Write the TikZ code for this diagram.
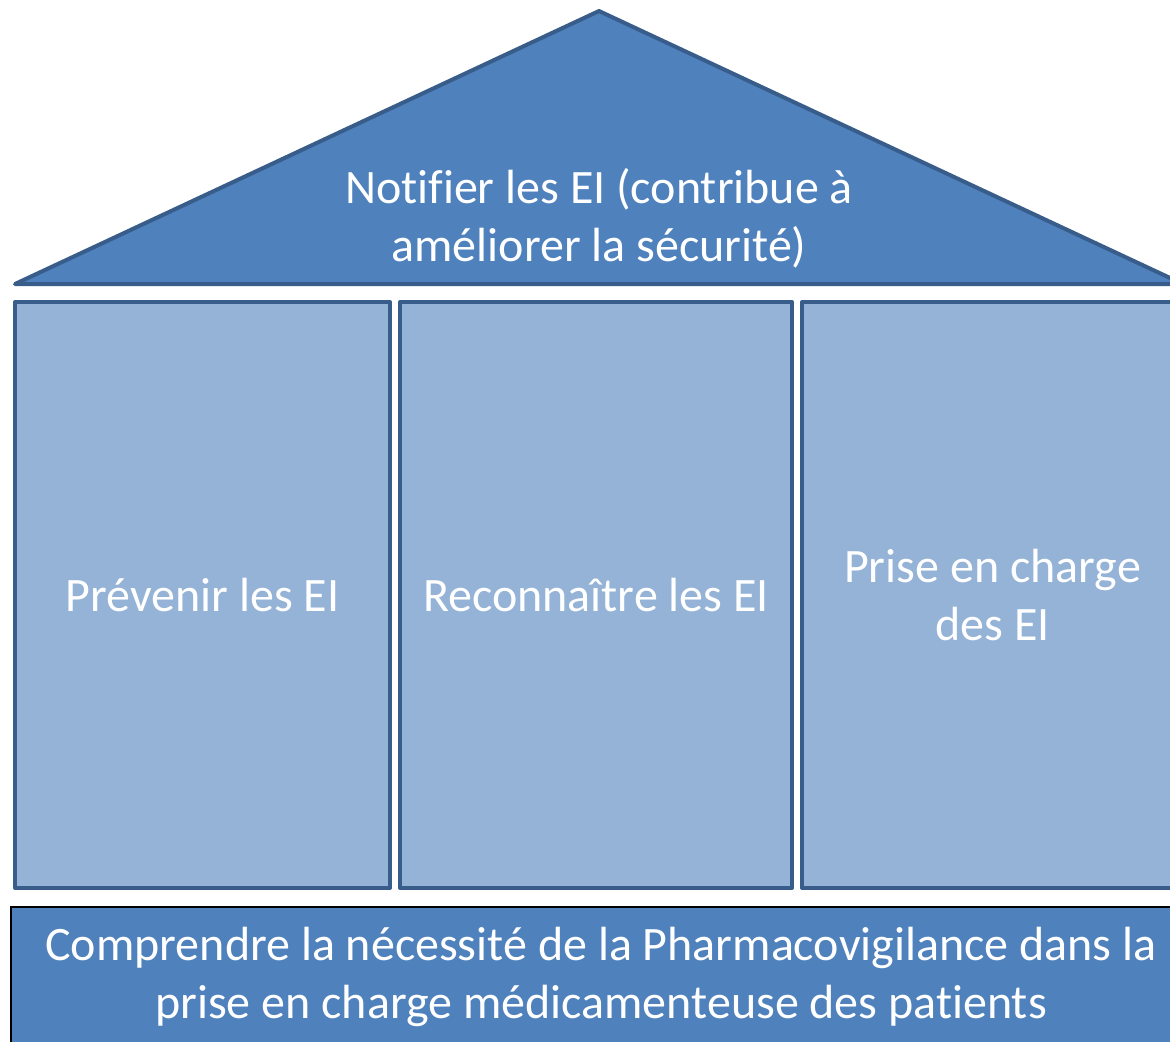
\documentclass[tikz,border=0pt]{standalone}
\usepackage{fontspec}
\setmainfont[Ligatures=NoCommon]{Carlito}
\usetikzlibrary{positioning}
\definecolor{roofBlue}{RGB}{79,129,189}
\definecolor{pillarBlue}{RGB}{149,179,215}
\definecolor{edgeBlue}{RGB}{56,93,138}
\tikzset{
  pillarbox/.style={
    rectangle, draw=edgeBlue, line width=2pt, line join=round,
    fill=pillarBlue, text=white, align=center,
    minimum height=293pt, inner sep=0pt,
    font=\fontsize{24}{29}\selectfont},
  basebox/.style={
    rectangle, draw=black, line width=0.6pt,
    fill=roofBlue, text=white, align=center,
    minimum width=590pt, minimum height=69.5pt, inner sep=0pt,
    font=\fontsize{24}{29}\selectfont},
  roofline/.style={draw=edgeBlue, line width=2pt, line join=round, fill=roofBlue},
  rooftext/.style={text=white, align=center, font=\fontsize{24}{29}\selectfont}
}

\begin{document}
\begin{tikzpicture}[x=0.5pt, y=-0.5pt]

    \useasboundingbox (0,0) rectangle (1170,1041);
    \clip (0,0) rectangle (1170,1041);

    % ---- roof ---------------------------------------------------
    \coordinate (eaveL) at (15,284);
    \coordinate (apex)  at (599,11);
    \coordinate (eaveR) at (1183,284);
    \draw[roofline] (eaveL) -- (apex) -- (eaveR) -- cycle;
    \node[rooftext] (roof) at (599,218) {Notifier les EI (contribue à\\améliorer la sécurité)};

    % ---- pillars ------------------------------------------------
    \node[pillarbox, minimum width=187.5pt] (prevent)   at (202.5,595) {Prévenir les EI};
    \node[pillarbox, minimum width=196pt]   (recognise) at (596,595)   {Reconnaître les EI};
    \node[pillarbox, minimum width=190.5pt] (manage)    at (992.5,595) {Prise en charge\\des EI};

    % ---- foundation ---------------------------------------------
    \node[basebox] (base) at (601,976.5) {Comprendre la nécessité de la Pharmacovigilance dans la\\prise en charge médicamenteuse des patients};

\end{tikzpicture}
\end{document}
